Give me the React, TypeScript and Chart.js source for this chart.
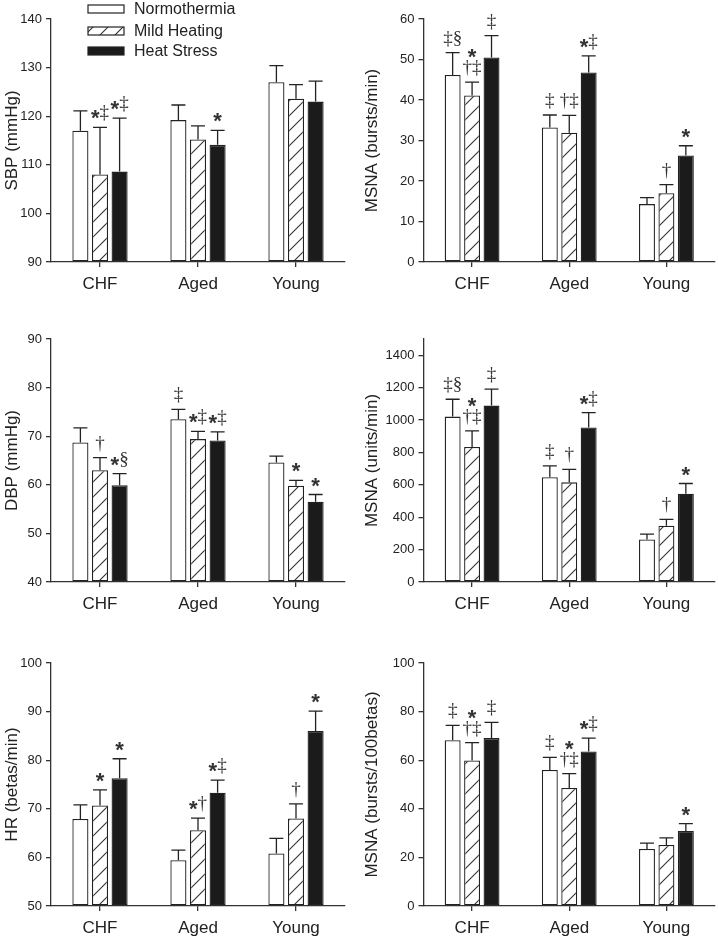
import React, { useEffect, useRef } from 'react';
import { Chart, registerables } from 'chart.js';

Chart.register(...registerables);

const categories = ['CHF', 'Aged', 'Young'];
const seriesNames = ['Normothermia', 'Mild Heating', 'Heat Stress'];

// Each: [Normothermia, Mild Heating, Heat Stress] x [CHF, Aged, Young]
const sbpMeans = [[117.0, 119.2, 127.0], [108.0, 115.2, 123.6], [108.6, 114.1, 123.0]];
const sbpSem = [[4.1, 3.1, 3.4], [9.7, 2.8, 2.9], [11.0, 3.0, 4.2]];
const sbpMarks = [['', '', ''], ['*‡', '', ''], ['*‡', '*', '']];
const sbpTicks = [90, 140, 10];

const burstsMeans = [[46.2, 33.2, 14.3], [41.1, 31.9, 17.0], [50.5, 46.8, 26.3]];
const burstsSem = [[5.5, 3.1, 1.6], [3.3, 4.3, 2.1], [5.4, 4.1, 2.4]];
const burstsMarks = [['‡§', '‡', ''], ['*\n†‡', '†‡', '†'], ['‡', '*‡', '*']];
const burstsTicks = [0, 60, 10];

const dbpMeans = [[68.7, 73.5, 64.6], [63.0, 69.4, 59.8], [59.9, 69.1, 56.5]];
const dbpSem = [[3.0, 2.0, 1.3], [2.6, 1.6, 1.1], [2.4, 1.8, 1.5]];
const dbpMarks = [['', '‡', ''], ['†', '*‡', '*'], ['*§', '*‡', '*']];
const dbpTicks = [40, 90, 10];

const unitsMeans = [[1021, 647, 263], [834, 615, 347], [1089, 954, 545]];
const unitsSem = [[107, 70, 33], [99, 80, 39], [101, 92, 63]];
const unitsMarks = [['‡§', '‡', ''], ['*\n†‡', '†', '†'], ['‡', '*‡', '*']];
const unitsTicks = [0, 1500, 200];

const hrMeans = [[67.9, 59.4, 60.8], [70.7, 65.6, 68.0], [76.3, 73.3, 86.0]];
const hrSem = [[2.9, 2.1, 3.1], [3.2, 2.5, 3.0], [4.0, 2.6, 4.1]];
const hrMarks = [['', '', ''], ['*', '*†', '†'], ['*', '*‡', '*']];
const hrTicks = [50, 100, 10];

const per100Means = [[68.2, 56.0, 23.5], [59.9, 48.6, 25.1], [69.1, 63.6, 30.9]];
const per100Sem = [[6.1, 5.2, 2.4], [7.3, 5.9, 2.9], [6.5, 5.5, 3.0]];
const per100Marks = [['‡', '‡', ''], ['*\n†‡', '*\n†‡', ''], ['‡', '*‡', '*']];
const per100Ticks = [0, 100, 20];

const panels = [
  { title: 'SBP (mmHg)', means: sbpMeans, sem: sbpSem, marks: sbpMarks, ticks: sbpTicks, col: 0, row: 0, legend: true },
  { title: 'MSNA (bursts/min)', means: burstsMeans, sem: burstsSem, marks: burstsMarks, ticks: burstsTicks, col: 1, row: 0 },
  { title: 'DBP (mmHg)', means: dbpMeans, sem: dbpSem, marks: dbpMarks, ticks: dbpTicks, col: 0, row: 1 },
  { title: 'MSNA (units/min)', means: unitsMeans, sem: unitsSem, marks: unitsMarks, ticks: unitsTicks, col: 1, row: 1 },
  { title: 'HR (betas/min)', means: hrMeans, sem: hrSem, marks: hrMarks, ticks: hrTicks, col: 0, row: 2 },
  { title: 'MSNA (bursts/100betas)', means: per100Means, sem: per100Sem, marks: per100Marks, ticks: per100Ticks, col: 1, row: 2 },
];

const FONT = '"Liberation Sans", Arial, Helvetica, sans-serif';
const STAR_FONT = 'bold 22px "Liberation Sans", Arial, sans-serif';
const SYM_FONT = '19px "Liberation Serif", "Times New Roman", serif';
const INK = '#222';

const COLS = [
  { left: 0, width: 360, yWidth: 51, padRight: 15 },
  { left: 360, width: 358, yWidth: 63.5, padRight: 3 },
];
const ROW_TOPS = [0, 320, 644];
const CANVAS_H = 300;

function makeHatch(ctx: CanvasRenderingContext2D): CanvasPattern {
  const s = 15;
  const c = document.createElement('canvas');
  c.width = s;
  c.height = s;
  const g = c.getContext('2d')!;
  g.fillStyle = '#fff';
  g.fillRect(0, 0, s, s);
  g.strokeStyle = '#333';
  g.lineWidth = 1.1;
  g.beginPath();
  g.moveTo(0, s);
  g.lineTo(s, 0);
  g.moveTo(-2, 2);
  g.lineTo(2, -2);
  g.moveTo(s - 2, s + 2);
  g.lineTo(s + 2, s - 2);
  g.stroke();
  return ctx.createPattern(c, 'repeat')!;
}

function drawMark(ctx: CanvasRenderingContext2D, text: string, cx: number, baseY: number) {
  const lines = text.split('\n');
  let y = baseY;
  ctx.textBaseline = 'alphabetic';
  ctx.textAlign = 'left';
  ctx.fillStyle = '#333';
  for (let k = lines.length - 1; k >= 0; k--) {
    const chars = Array.from(lines[k]);
    const widths = chars.map((ch) => {
      ctx.font = ch === '*' ? STAR_FONT : SYM_FONT;
      return ctx.measureText(ch).width;
    });
    const total = widths.reduce((a, b) => a + b, 0);
    let x = cx - total / 2;
    chars.forEach((ch, i) => {
      ctx.font = ch === '*' ? STAR_FONT : SYM_FONT;
      ctx.fillText(ch, x, ch === '*' ? y + 7 : y);
      x += widths[i];
    });
    y -= 16;
  }
}

function Panel({ p }: { p: (typeof panels)[number] }) {
  const ref = useRef<HTMLCanvasElement>(null);
  const col = COLS[p.col];
  useEffect(() => {
    const canvas = ref.current!;
    const ctx0 = canvas.getContext('2d')!;
    const hatch = makeHatch(ctx0);
    const [min, max, step] = p.ticks;
    const fills: (string | CanvasPattern)[] = ['#ffffff', hatch, '#1b1b1b'];

    const errPlugin = {
      id: 'errAnno',
      afterDatasetsDraw(chart: any) {
        const ctx: CanvasRenderingContext2D = chart.ctx;
        const ys = chart.scales.y;
        ctx.save();
        for (let i = 0; i < 3; i++) {
          const meta = chart.getDatasetMeta(i);
          meta.data.forEach((el: any, j: number) => {
            const top = p.means[i][j] + p.sem[i][j];
            const yTop = ys.getPixelForValue(top);
            const x = el.x;
            ctx.strokeStyle = INK;
            ctx.lineWidth = 1.3;
            ctx.beginPath();
            ctx.moveTo(x, el.y);
            ctx.lineTo(x, yTop);
            ctx.moveTo(x - 7, yTop);
            ctx.lineTo(x + 7, yTop);
            ctx.stroke();
            const m = p.marks[i][j];
            if (m) drawMark(ctx, m, x, yTop - 9);
          });
        }
        ctx.restore();
      },
    };

    const legendPlugin = {
      id: 'panelLegend',
      afterDraw(chart: any) {
        if (!p.legend) return;
        const ctx: CanvasRenderingContext2D = chart.ctx;
        ctx.save();
        const rows = [9, 31, 51];
        seriesNames.forEach((name, i) => {
          const y = rows[i];
          ctx.fillStyle = fills[i] as any;
          ctx.fillRect(88, y - 4, 36, 8);
          ctx.strokeStyle = INK;
          ctx.lineWidth = 1.2;
          ctx.strokeRect(88, y - 4, 36, 8);
          ctx.fillStyle = INK;
          ctx.font = '16px ' + FONT;
          ctx.textBaseline = 'middle';
          ctx.textAlign = 'left';
          ctx.fillText(name, 134, y + 0.5);
        });
        ctx.restore();
      },
    };

    const chart = new Chart(canvas, {
      type: 'bar',
      data: {
        labels: categories,
        datasets: seriesNames.map((name, i) => ({
          label: name,
          data: p.means[i],
          backgroundColor: fills[i] as any,
          borderColor: INK,
          borderWidth: 1.3,
          borderSkipped: false,
          base: min,
          categoryPercentage: 0.6,
          barPercentage: 0.82,
        })),
      },
      options: {
        responsive: false,
        animation: false,
        events: [],
        layout: { padding: { top: 19, right: col.padRight, left: 0, bottom: 0 } },
        plugins: { legend: { display: false }, tooltip: { enabled: false } },
        scales: {
          x: {
            grid: { drawOnChartArea: false, offset: false, tickLength: 5, color: '#333', lineWidth: 1.3 },
            border: { color: '#333', width: 1.3 },
            ticks: { color: INK, font: { size: 17, family: FONT }, padding: 7 },
            afterFit: (s: any) => {
              s.height = 38;
            },
          },
          y: {
            min,
            max,
            ticks: {
              stepSize: step,
              includeBounds: false,
              color: INK,
              font: { size: 13, family: FONT },
              padding: 4,
              callback: (v: any) => String(v),
            },
            grid: { drawOnChartArea: false, tickLength: 5, color: '#333', lineWidth: 1.3 },
            border: { color: '#333', width: 1.3 },
            title: { display: true, text: p.title, color: INK, font: { size: 17, family: FONT }, padding: { top: 2, bottom: 0 } },
            afterFit: (s: any) => {
              s.width = col.yWidth;
            },
          },
        },
      } as any,
      plugins: [errPlugin, legendPlugin],
    });
    return () => chart.destroy();
  }, []);
  return (
    <canvas
      ref={ref}
      width={col.width}
      height={CANVAS_H}
      style={{ position: 'absolute', left: col.left, top: ROW_TOPS[p.row], width: col.width, height: CANVAS_H }}
    />
  );
}

export default function App() {
  return (
    <div style={{ position: 'absolute', left: 0, top: 0, width: 718, height: 939, background: '#fff' }}>
      {panels.map((p, i) => (
        <Panel key={i} p={p} />
      ))}
    </div>
  );
}
